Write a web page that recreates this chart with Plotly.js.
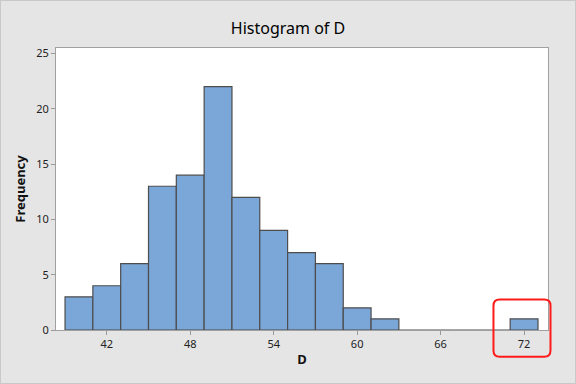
<!DOCTYPE html>
<html>
<head>
<meta charset="utf-8">
<script src="https://cdn.plot.ly/plotly-3.0.1.min.js"></script>
<style>
html,body{margin:0;padding:0;background:#e5e5e5;}
#wrap{width:576px;height:384px;box-sizing:border-box;border:1px solid #c9c9c9;background:#e5e5e5;}
#chart{width:574px;height:382px;}
</style>
</head>
<body>
<div id="wrap"><div id="chart"></div></div>
<script>
// Bin centers (bin width 2) and frequencies
const binCenters = [40, 42, 44, 46, 48, 50, 52, 54, 56, 58, 60, 62, 64, 66, 68, 70, 72];
const frequencies = [3, 4, 6, 13, 14, 22, 12, 9, 7, 6, 2, 1, 0, 0, 0, 0, 1];
const binWidth = 2;
const xTicks = [42, 48, 54, 60, 66, 72];
const yTicks = [0, 5, 10, 15, 20, 25];
const highlightValue = 72;

const xRange = [38.35, 73.72];
const yRange = [0, 25.5];

// rounded highlight box around the outlier bin (paper coords)
function roundedBox(x0, x1, y0, y1, rx, ry) {
  return `M ${x0+rx} ${y0} L ${x1-rx} ${y0} Q ${x1} ${y0} ${x1} ${y0+ry} ` +
         `L ${x1} ${y1-ry} Q ${x1} ${y1} ${x1-rx} ${y1} L ${x0+rx} ${y1} ` +
         `Q ${x0} ${y1} ${x0} ${y1-ry} L ${x0} ${y0+ry} Q ${x0} ${y0} ${x0+rx} ${y0} Z`;
}
const span = xRange[1] - xRange[0];
const hx = (highlightValue - xRange[0]) / span;
const bx0 = hx - 2.2 / span, bx1 = hx + 1.9 / span;
const by0 = -0.095, by1 = 0.108;
const rxp = 0.45 / span, ryp = 0.022;

const trace = {
  type: 'bar',
  x: binCenters,
  y: frequencies,
  width: binWidth,
  marker: {color: '#7ba6d8', line: {color: '#4d4d4d', width: 1.2}},
  hoverinfo: 'x+y'
};

const layout = {
  width: 574, height: 382,
  paper_bgcolor: '#e5e5e5',
  plot_bgcolor: '#ffffff',
  margin: {l: 55, r: 27, t: 47, b: 53},
  showlegend: false,
  bargap: 0,
  title: {text: 'Histogram of D', x: 0.5, xanchor: 'center', y: 0.928, yanchor: 'middle',
          font: {family: 'Noto Sans, DejaVu Sans, sans-serif', size: 16, color: '#000'}},
  font: {family: 'Noto Sans, DejaVu Sans, sans-serif', size: 11, color: '#222'},
  xaxis: {
    range: xRange, tickvals: xTicks, ticktext: xTicks.map(String),
    ticks: 'outside', ticklen: 4, tickcolor: '#999', tickwidth: 1,
    showgrid: false, zeroline: false,
    showline: true, linecolor: '#a0a0a0', linewidth: 1, mirror: true,
    title: {text: '<b>D</b>', standoff: 4, font: {size: 13, color: '#111'}},
    tickfont: {size: 11, color: '#222'}
  },
  yaxis: {
    range: yRange, tickvals: yTicks,
    ticks: 'outside', ticklen: 4, tickcolor: '#999', tickwidth: 1,
    showgrid: false, zeroline: false,
    showline: true, linecolor: '#a0a0a0', linewidth: 1, mirror: true,
    title: {text: '<b>Frequency</b>', standoff: 7, font: {size: 13, color: '#111'}},
    tickfont: {size: 11, color: '#222'}
  },
  shapes: [{
    type: 'path', xref: 'paper', yref: 'paper', layer: 'above',
    path: roundedBox(bx0, bx1, by0, by1, rxp, ryp),
    line: {color: '#ff1a1a', width: 2}
  }]
};

Plotly.newPlot('chart', [trace], layout, {displayModeBar: false, staticPlot: true});
</script>
</body>
</html>
